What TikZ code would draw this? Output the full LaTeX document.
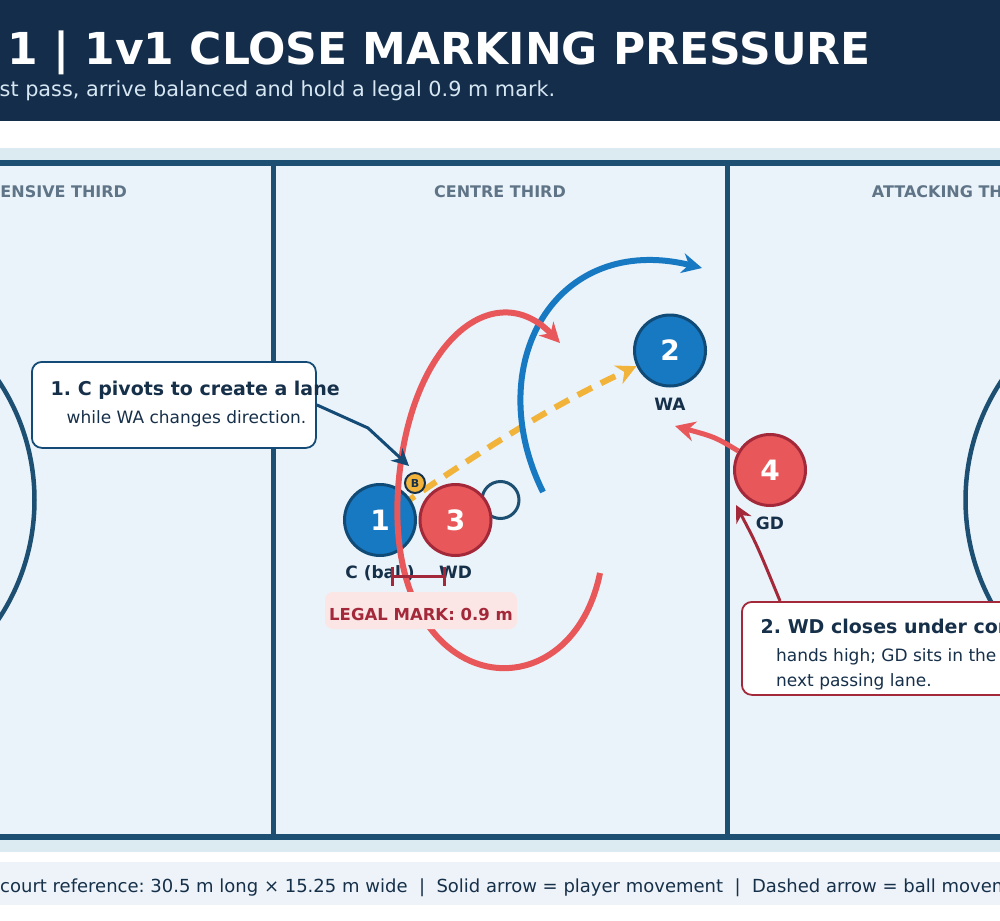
\documentclass[tikz,border=0pt]{standalone}
\usepackage{fontspec}
\setmainfont{DejaVu Sans}
\usetikzlibrary{arrows.meta,positioning,calc}

\definecolor{hdrnavy}{HTML}{132D4A}
\definecolor{subtxt}{HTML}{D6E6F2}
\definecolor{courtline}{HTML}{1D4F72}
\definecolor{courtfill}{HTML}{EAF3F9}
\definecolor{courtband}{HTML}{DCEAF2}
\definecolor{footband}{HTML}{EDF3F8}
\definecolor{zonegray}{HTML}{5F7487}
\definecolor{inkdark}{HTML}{17304A}
\definecolor{pblue}{HTML}{1879C3}
\definecolor{pbluedark}{HTML}{104B77}
\definecolor{pred}{HTML}{E8575A}
\definecolor{preddark}{HTML}{A3293A}
\definecolor{ballyellow}{HTML}{F2B33B}
\definecolor{markpink}{HTML}{FBE5E5}
\definecolor{notenavy}{HTML}{134B76}

\newcommand{\fsz}[1]{\fontsize{#1}{#1}\selectfont}
\frenchspacing

\begin{document}
\begin{tikzpicture}[x=1pt, y=-1pt,
    player/.style={circle, minimum size=71pt, inner sep=0pt, line width=3pt, text=white, font=\fsz{28}\bfseries},
    bluep/.style={player, fill=pblue, draw=pbluedark},
    redp/.style={player, fill=pred, draw=preddark},
    plabel/.style={anchor=base, inner sep=0pt, text=inkdark, font=\fsz{17}\bfseries},
    zonelabel/.style={anchor=base west, inner sep=0pt, text=zonegray, font=\fsz{16}\bfseries},
    movearrow/.style={line width=6pt, -{Stealth[length=20pt,width=20pt]}},
    ballpass/.style={line width=6pt, ballyellow, dash pattern=on 16pt off 10pt, -{Stealth[length=20pt,width=20pt]}},
    notebox/.style={fill=white, rounded corners=10pt, line width=1.8pt, inner sep=0pt, anchor=north west},
    notehead/.style={anchor=base west, inner sep=0pt, text=inkdark, font=\fsz{19}\bfseries},
    notebody/.style={anchor=base west, inner sep=0pt, text=inkdark, font=\fsz{17}},
    notearrow/.style={line width=3pt, -{Stealth[length=17pt,width=17pt]}}]

    \useasboundingbox (0,0) rectangle (1000,920);
    \clip (0,0) rectangle (1000,920);

    % Header
    \fill[hdrnavy] (0,0) rectangle (1000,121);
    \node[anchor=base west, inner sep=0pt, text=white, font=\fsz{44}\bfseries] (title) at (7,65) {1 | 1v1 CLOSE MARKING PRESSURE};
    \node[anchor=base west, inner sep=0pt, text=subtxt, font=\fsz{20.8}] (subtitle) at (-0.5,97) {st pass, arrive balanced and hold a legal 0.9 m mark.};

    % Court
    \fill[courtband] (0,148) rectangle (1000,852);
    \fill[courtfill] (-181,163) rectangle (1181,837);
    \draw[courtline, line width=4.5pt] (-181,500) circle [radius=215.5pt];
    \draw[courtline, line width=4.5pt] (1181,500) circle [radius=215.5pt];
    \draw[courtline, line width=3pt] (500.5,500) circle [radius=18.5pt];
    \foreach \lx in {273,727}
        \draw[courtline, line width=5pt] (\lx,163) -- (\lx,837);
    \draw[courtline, line width=6pt] (-181,163) rectangle (1181,837);

    % Third labels
    \node[zonelabel] (defzone) at (0.3,197) {ENSIVE THIRD};
    \node[zonelabel, anchor=base] (cenzone) at (500,197) {CENTRE THIRD};
    \node[zonelabel] (attzone) at (871.7,197) {ATTACKING TH};

    % Ball pass (dashed), starts under C
    \coordinate (cpos) at (380,520);
    \node[bluep] (wa) at (670,350.5) {2};
    \draw[ballpass] (cpos) .. controls (500,437) and (560,402) .. (wa);

    % Players
    \node[bluep] (c) at (cpos) {1};
    \node[redp] (wd) at (455.5,520) {3};
    \node[redp] (gd) at (770,470) {4};
    \node[circle, fill=ballyellow, draw=inkdark, line width=2pt, minimum size=20pt, inner sep=0pt,
          text=inkdark, font=\fsz{11}\bfseries] (ball) at (415,483) {B};

    \node[plabel] (clab) at (380,578) {C (ball)};
    \node[plabel] (wdlab) at (455.5,578) {WD};
    \node[plabel] (walab) at (670,410) {WA};
    \node[plabel] (gdlab) at (770,529) {GD};

    % Player movement
    \coordinate (wafrom) at (543,492);
    \coordinate (wato) at (702,268);
    \draw[movearrow, pblue] (wafrom) .. controls (480,365) and (555,232) .. (wato);

    \coordinate (wdfrom) at (600,573);
    \coordinate (wdturn) at (398,490);
    \coordinate (wdto) at (560,343);
    \draw[movearrow, pred] (wdfrom) .. controls (570,720) and (385,700) .. (wdturn)
        .. controls (408,340) and (495,275) .. (wdto);

    \coordinate (gdto) at (675,426);
    \draw[movearrow, pred, line width=5pt] (gd) .. controls (715,437) .. (gdto);

    % Legal mark
    \node[fill=markpink, rounded corners=8pt, minimum width=192pt, minimum height=37pt, inner sep=0pt] (markbox) at (421,610.5) {};
    \node[anchor=base, inner sep=0pt, text=preddark, font=\fsz{16.5}\bfseries] (marktext) at (421,620) {LEGAL MARK: 0.9 m};
    \coordinate (markl) at (391,576);
    \coordinate (markr) at (446,576);
    \draw[preddark, line width=3pt, {Bar[width=19pt,line width=3pt]}-{Bar[width=19pt,line width=3pt]}] (markl) -- (markr);

    % Coaching notes
    \node[notebox, draw=notenavy, minimum width=284pt, minimum height=86pt] (note1) at (31,361) {};
    \node[notehead] (note1head) at (50.5,395) {1. C pivots to create a lane};
    \node[notebody] (note1body) at (66.5,423) {while WA changes direction.};

    \node[notebox, draw=preddark, minimum width=300pt, minimum height=93pt] (note2) at (741,601) {};
    \node[notehead] (note2head) at (760.5,633) {2. WD closes under cont};
    \node[notebody] (note2body) at (776,661) {hands high; GD sits in the};
    \node[notebody] (note2more) at (776,686) {next passing lane.};

    \coordinate (ctip) at (409,466);
    \draw[notearrow, notenavy] (note1.east) -- (368,428) -- (ctip);
    \coordinate (n2from) at ($(note2.north west)+(39,0)$);
    \coordinate (gdtip) at (736,505);
    \draw[notearrow, preddark] (n2from) .. controls (757,545) .. (gdtip);

    % Footer
    \fill[footband] (0,862) rectangle (1000,905);
    \node[anchor=base west, inner sep=0pt, text=inkdark, font=\fsz{18}] (footer) at (0,892)
        {court reference: 30.5 m long × 15.25 m wide\ \ |\ \ Solid arrow = player movement\ \ |\ \ Dashed arrow = ball movem};
\end{tikzpicture}
\end{document}
